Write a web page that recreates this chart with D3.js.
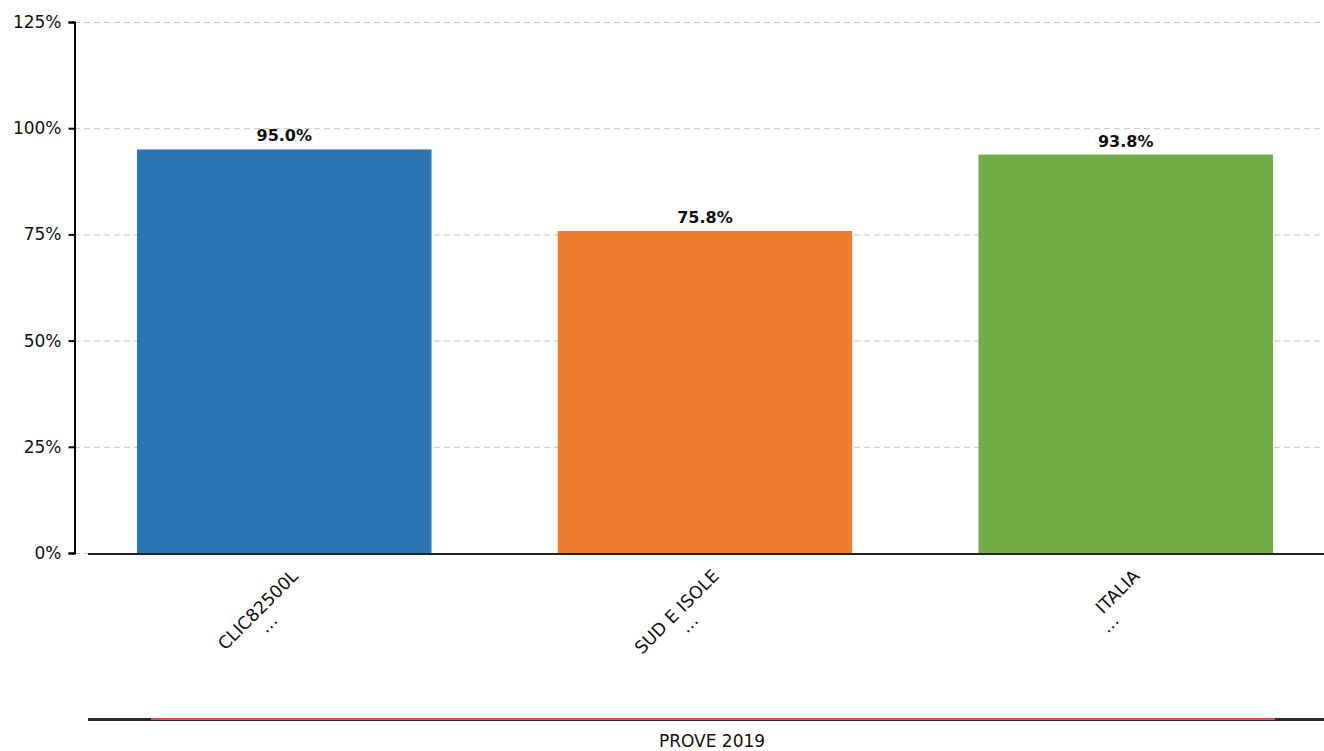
<!DOCTYPE html>
<html><head><meta charset="utf-8">
<script src="https://cdn.jsdelivr.net/npm/d3@7"></script>
<style>body{margin:0;background:#fff}svg{display:block;font-family:"DejaVu Sans",sans-serif}</style>
</head><body>
<svg id="c" width="1324" height="751"></svg>
<script>
const categories = ["CLIC82500L", "SUD E ISOLE", "ITALIA"];
const values = [95.0, 75.8, 93.8];
const colors = ["#2e75b6", "#ed7d31", "#70ad47"];
const yTicks = [0, 25, 50, 75, 100, 125];
const xTitle = "PROVE 2019";

const svg = d3.select("#c");
const y = d3.scaleLinear().domain([0, 125]).range([553, 22]);
const x = d3.scaleBand().domain(categories).range([88, 1322]).paddingInner(0.3).paddingOuter(0.1165);

// grid
svg.append("g").selectAll("line").data(yTicks).join("line")
  .attr("x1", 74).attr("x2", 1324).attr("y1", d => y(d) + 0.5).attr("y2", d => y(d) + 0.5)
  .attr("stroke", "#c4c4c4").attr("stroke-dasharray", "6,4").attr("stroke-width", 1);

// bars
svg.append("g").selectAll("rect").data(categories).join("rect")
  .attr("x", d => x(d)).attr("width", x.bandwidth())
  .attr("y", (d, i) => y(values[i])).attr("height", (d, i) => y(0) - y(values[i]))
  .attr("fill", (d, i) => colors[i]);

// value labels
svg.append("g").selectAll("text").data(categories).join("text")
  .attr("x", d => x(d) + x.bandwidth() / 2).attr("y", (d, i) => y(values[i]) - 8)
  .attr("text-anchor", "middle").attr("font-weight", "bold").attr("font-size", 16).attr("fill", "#111")
  .text((d, i) => values[i].toFixed(1) + "%");

// y axis
const ya = svg.append("g").attr("transform", "translate(74.5,0)")
  .call(d3.axisLeft(y).tickValues(yTicks).tickFormat(d => d + "%").tickSize(6).tickPadding(7));
ya.select(".domain").attr("stroke", "#000").attr("stroke-width", 2);
ya.selectAll(".tick line").attr("stroke", "#000").attr("stroke-width", 2);
ya.selectAll(".tick text").attr("font-size", 17).attr("fill", "#111").attr("font-family", "DejaVu Sans");

// x baseline
svg.append("line").attr("x1", 88).attr("x2", 1324).attr("y1", 554).attr("y2", 554)
  .attr("stroke", "#222").attr("stroke-width", 2);

// x labels
const xl = svg.append("g").selectAll("g").data(categories).join("g")
  .attr("transform", d => `translate(${x(d) + x.bandwidth() / 2 + 15},${577}) rotate(-45)`);
xl.append("text").attr("text-anchor", "end").attr("font-size", 17.5).attr("fill", "#111").text(d => d);
xl.append("text").attr("text-anchor", "middle").attr("font-size", 17.5).attr("fill", "#111")
  .attr("x", -55).attr("y", 17).text("…");

// bottom line
svg.append("rect").attr("x", 88).attr("y", 718).attr("width", 1236).attr("height", 3).attr("fill", "#2a2a2a");
svg.append("rect").attr("x", 151).attr("y", 718).attr("width", 1124).attr("height", 2).attr("fill", "#e8484f");

svg.append("text").attr("x", 712).attr("y", 747).attr("text-anchor", "middle").attr("font-size", 17).attr("fill", "#111").text(xTitle);
</script>
</body></html>
